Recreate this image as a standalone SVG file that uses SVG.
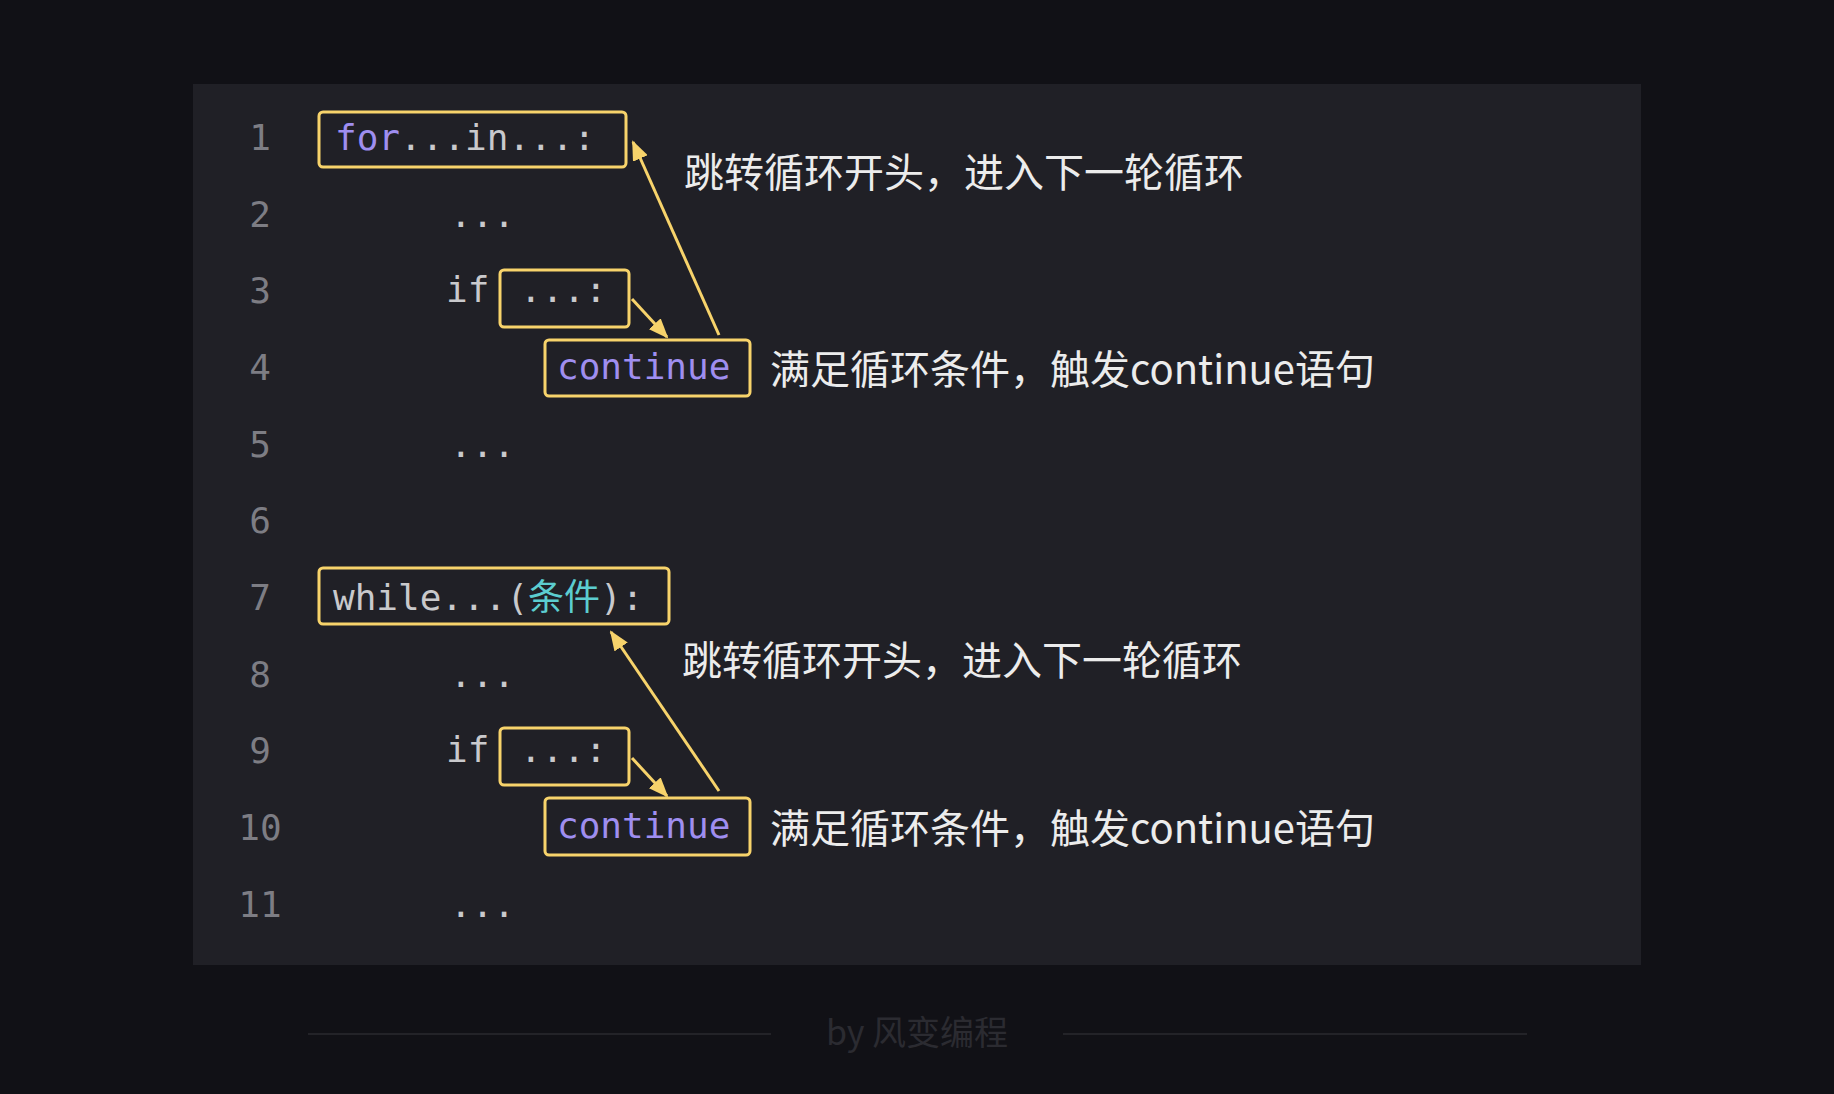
<svg xmlns="http://www.w3.org/2000/svg" width="1834" height="1094" viewBox="0 0 1834 1094">
<style>
.ln{font-family:"DejaVu Sans Mono",monospace;font-size:36px;fill:#7d7d84;text-anchor:middle}
.cd{font-family:"DejaVu Sans Mono","Noto Sans CJK SC",monospace;font-size:36px;fill:#c9c9cc}
.kw{fill:#9f8ef0}
.cy{fill:#5ccdd0}
.bx{fill:none;stroke:#f7d36b;stroke-width:3}
.lb{font-family:"Noto Sans CJK SC","Noto Sans",sans-serif;font-size:40px;fill:#ececec}
.ar{stroke:#f7d36b;stroke-width:3;fill:none;marker-end:url(#ah)}
</style>
<defs><marker id="ah" markerWidth="8" markerHeight="8" refX="7" refY="4" orient="auto" markerUnits="userSpaceOnUse" viewBox="0 0 8 8"><path d="M0,0 L8,4 L0,8 z" fill="#f7d36b"/></marker>
<marker id="ah2" markerWidth="20" markerHeight="16" refX="18" refY="8" orient="auto" markerUnits="userSpaceOnUse"><path d="M0,0 L20,8 L0,16 z" fill="#f7d36b"/></marker></defs>
<rect width="1834" height="1094" fill="#111116"/>
<rect x="193" y="84" width="1448" height="881" fill="#202026"/>
<g id="linenums">
<text class="ln" x="260" y="150">1</text><text class="ln" x="260" y="227">2</text><text class="ln" x="260" y="303">3</text><text class="ln" x="260" y="380">4</text><text class="ln" x="260" y="457">5</text><text class="ln" x="260" y="533">6</text><text class="ln" x="260" y="610">7</text><text class="ln" x="260" y="687">8</text><text class="ln" x="260" y="763">9</text><text class="ln" x="260" y="840">10</text><text class="ln" x="260" y="917">11</text>
</g>
<g id="code">
<text class="cd" x="450" y="227">...</text>
<text class="cd" x="446" y="302">if</text>
<text class="cd" x="450" y="457">...</text>
<text class="cd" x="450" y="687">...</text>
<text class="cd" x="446" y="762">if</text>
<text class="cd" x="450" y="917">...</text>
</g>
<g id="n1"><rect class="bx" x="319" y="112" width="307" height="55" rx="4"/><text class="cd" x="335" y="150"><tspan class="kw">for</tspan>...in...:</text></g>
<g id="n2"><rect class="bx" x="500" y="270" width="129" height="57" rx="4"/><text class="cd" x="520" y="302">...:</text></g>
<g id="n3"><rect class="bx" x="545" y="340" width="205" height="56" rx="4"/><text class="cd kw" x="557" y="379">continue</text></g>
<g id="n4"><rect class="bx" x="319" y="568" width="350" height="56" rx="4"/><text class="cd" x="333" y="610">while...(<tspan class="cy">条件</tspan>):</text></g>
<g id="n5"><rect class="bx" x="500" y="728" width="129" height="57" rx="4"/><text class="cd" x="520" y="762">...:</text></g>
<g id="n6"><rect class="bx" x="545" y="798" width="205" height="57" rx="4"/><text class="cd kw" x="557" y="838">continue</text></g>
<g id="labels">
<text class="lb" x="684" y="187">跳转循环开头，进入下一轮循环</text>
<text class="lb" x="770" y="384">满足循环条件，触发continue语句</text>
<text class="lb" x="682" y="675">跳转循环开头，进入下一轮循环</text>
<text class="lb" x="770" y="843">满足循环条件，触发continue语句</text>
</g>
<g id="connectors">
<line x1="719" y1="335" x2="633" y2="142" stroke="#f7d36b" stroke-width="3" marker-end="url(#ah2)"/>
<line x1="632" y1="299" x2="667" y2="337" stroke="#f7d36b" stroke-width="3" marker-end="url(#ah2)"/>
<line x1="719" y1="791" x2="611" y2="632" stroke="#f7d36b" stroke-width="3" marker-end="url(#ah2)"/>
<line x1="632" y1="758" x2="667" y2="796" stroke="#f7d36b" stroke-width="3" marker-end="url(#ah2)"/>
</g>
<g id="footer">
<line x1="308" y1="1034" x2="771" y2="1034" stroke="#232328" stroke-width="2"/>
<line x1="1063" y1="1034" x2="1527" y2="1034" stroke="#232328" stroke-width="2"/>
<text x="917" y="1045" text-anchor="middle" font-family="Noto Sans CJK SC,sans-serif" font-size="34" fill="#2b2b31">by 风变编程</text>
</g>
</svg>
